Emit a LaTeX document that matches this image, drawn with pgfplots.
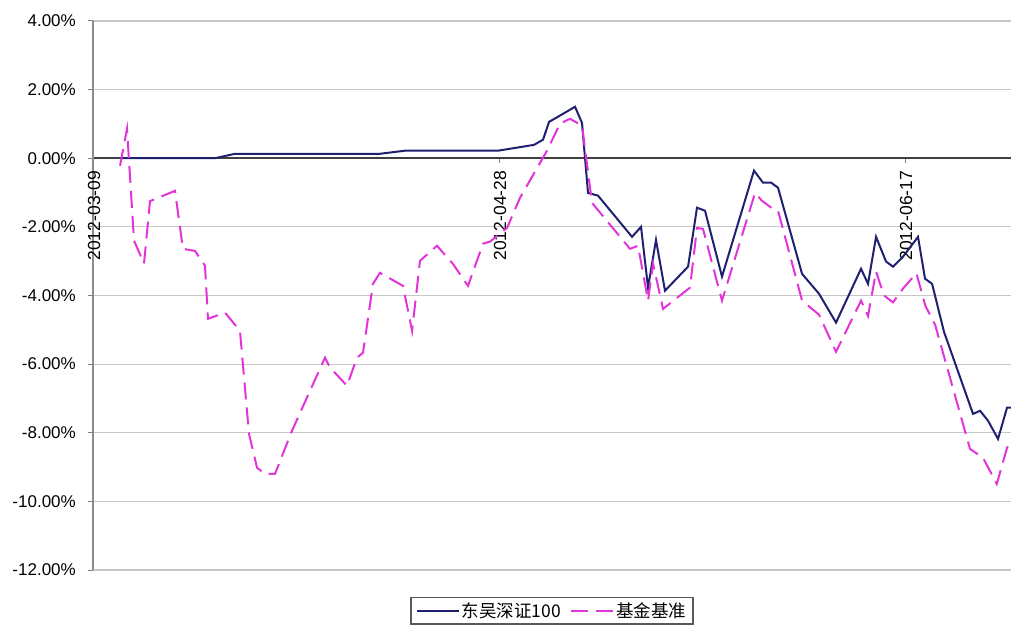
\documentclass[border=0pt]{standalone}
\usepackage{pgfplots}
\pgfplotsset{compat=1.18}
\usepackage{fontspec}
\setmainfont{Liberation Sans}
\newfontfamily\cjk{Noto Sans CJK SC}
\definecolor{navy}{RGB}{32,32,112}
\definecolor{pinkline}{RGB}{226,52,216}
\begin{document}
\begin{tikzpicture}
\begin{axis}[
  at={(93pt,56pt)}, anchor=south west,
  width=918pt, height=549pt, scale only axis,
  xmin=0, xmax=113.05, ymin=-12, ymax=4,
  axis x line=middle, axis y line=left,
  hide obscured x ticks=false,
  x axis line style={black!75, line width=1.6pt, -},
  y axis line style={black!45, line width=1.2pt, -},
  ytick={-12,-10,...,4},
  yticklabels={-12.00\%,-10.00\%,-8.00\%,-6.00\%,-4.00\%,-2.00\%,0.00\%,2.00\%,4.00\%},
  xtick={0,50,100},
  xticklabels={2012-03-09,2012-04-28,2012-06-17},
  ymajorgrids, grid style={black!22, line width=1.2pt},
  tick align=outside,
  major tick length=5pt,
  tick style={black!50, line width=1pt},
  yticklabel style={font=\fontsize{17}{19}\selectfont, inner sep=0pt, xshift=-12pt},
  xticklabel style={font=\fontsize{17.5}{19}\selectfont, rotate=90, anchor=east, inner sep=0pt, xshift=-7.5pt, yshift=-1pt},
  /pgf/number format/assume math mode=true,
  legend style={at={(0.5,0)}, anchor=north, yshift=-27pt, draw=black!65, line width=1.2pt,
    font=\cjk\fontsize{17.5}{20}\selectfont, inner xsep=5pt, inner ysep=3pt,
    /tikz/every even column/.append style={column sep=7pt}},
  legend columns=2,
  legend image code/.code={\draw[#1] (0pt,0pt) -- (42pt,0pt);},
]
\addplot[navy, line width=2pt, mark=none] coordinates {
(3.33,0.00) (15.02,0.00) (17.49,0.13) (35.34,0.13) (38.42,0.22) (49.88,0.22)
(54.31,0.39) (55.42,0.54) (56.16,1.06) (57.27,1.21) (59.36,1.50) (60.22,1.03)
(60.96,-1.01) (62.19,-1.09) (66.38,-2.29) (67.49,-2.00) (68.35,-3.77) (69.33,-2.38)
(70.44,-3.86) (73.28,-3.16) (74.38,-1.44) (75.37,-1.53) (77.46,-3.45) (81.40,-0.36)
(82.51,-0.71) (83.50,-0.71) (84.36,-0.86) (87.32,-3.37) (89.41,-3.95) (91.50,-4.79)
(94.58,-3.22) (95.44,-3.66) (96.43,-2.29) (97.66,-3.01) (98.52,-3.16) (99.75,-2.87)
(101.60,-2.29) (102.46,-3.51) (103.33,-3.66) (104.80,-5.06) (108.37,-7.45) (109.24,-7.36)
(110.22,-7.65) (111.45,-8.18) (112.56,-7.27) (113.05,-7.27)
};
\addlegendentry{东吴深证100}
\addplot[pinkline, line width=2pt, dash pattern=on 17pt off 8pt, mark=none] coordinates {
(3.33,-0.22) (4.19,0.86) (5.05,-2.40) (6.28,-3.07) (7.02,-1.25) (10.10,-0.95)
(11.08,-2.64) (12.56,-2.70) (13.79,-3.13) (14.16,-4.68) (16.26,-4.50) (18.10,-5.03)
(19.21,-8.03) (20.20,-9.02) (21.18,-9.20) (22.41,-9.20) (24.51,-7.94) (28.57,-5.81)
(29.19,-6.10) (31.28,-6.63) (32.51,-5.81) (33.25,-5.67) (34.48,-3.66) (35.34,-3.34)
(38.18,-3.72) (39.29,-5.03) (40.27,-2.99) (42.36,-2.55) (44.33,-3.08) (46.18,-3.72)
(48.03,-2.49) (48.89,-2.43) (50.99,-2.03) (52.59,-1.15) (55.91,0.22) (57.51,1.01)
(58.74,1.15) (60.22,0.95) (61.45,-1.30) (66.13,-2.64) (67.12,-2.55) (68.35,-4.15)
(68.97,-3.07) (70.20,-4.39) (73.52,-3.77) (74.38,-2.03) (75.12,-2.06) (77.46,-4.15)
(81.53,-1.01) (82.39,-1.24) (83.74,-1.48) (84.36,-1.53) (87.32,-4.15) (89.41,-4.56)
(91.50,-5.64) (94.58,-4.15) (95.44,-4.60) (96.43,-3.30) (97.40,-4.00) (98.52,-4.20)
(99.75,-3.80) (101.40,-3.35) (102.50,-4.30) (103.70,-4.85) (108.00,-8.47) (109.60,-8.73)
(111.30,-9.49) (112.56,-8.44) (113.05,-8.23)
};
\addlegendentry{基金基准}
\end{axis}
\pgfresetboundingbox
\useasboundingbox (0pt,0pt) rectangle (1011pt,626pt);
\end{tikzpicture}
\end{document}
